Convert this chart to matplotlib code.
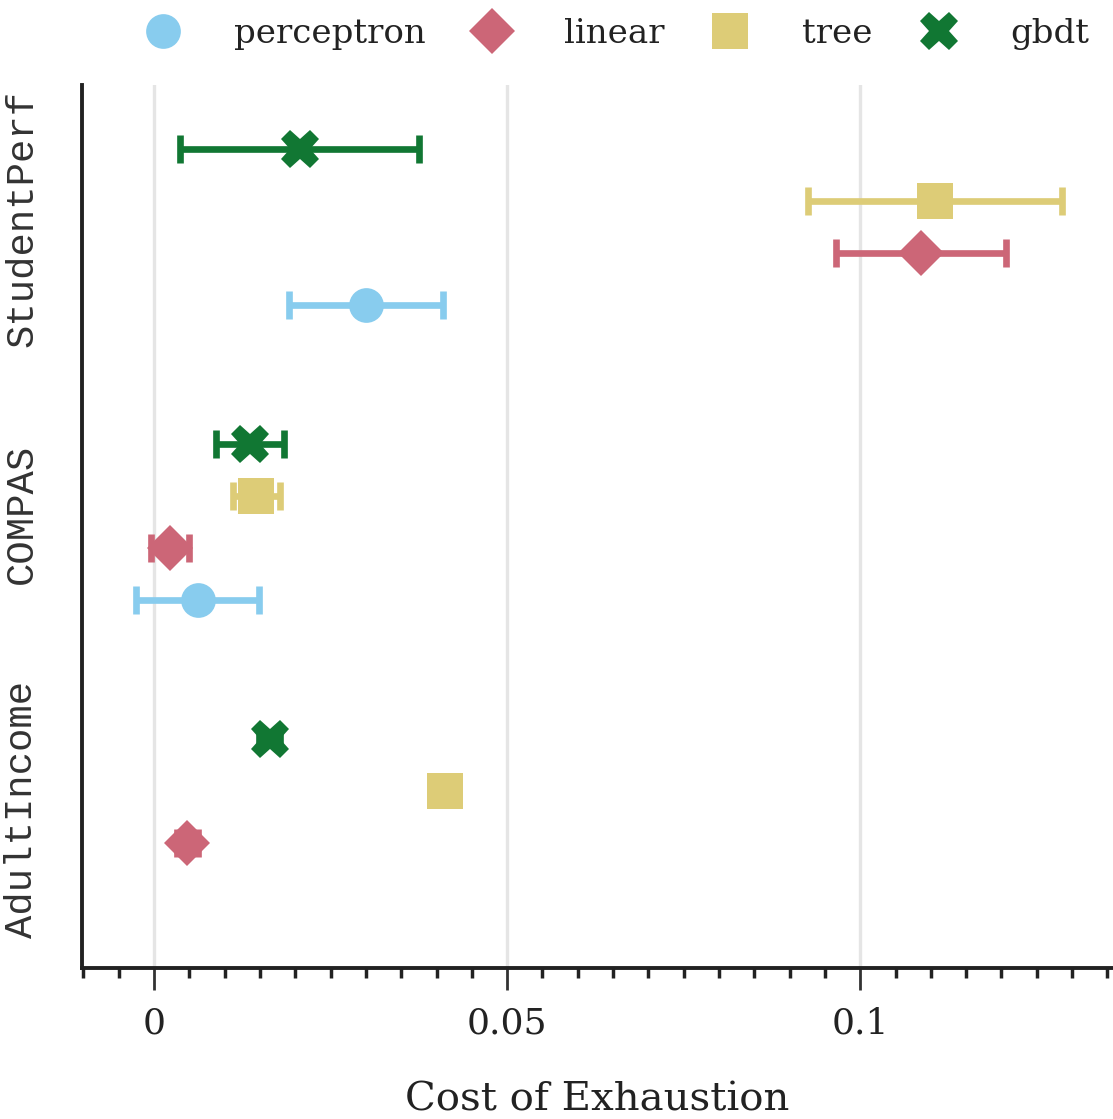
#!/usr/bin/env python3

"""
Cost of exhaustion per dataset and model, mean with error bars.
"""

import numpy as np
from matplotlib import pyplot as plt
from matplotlib.lines import Line2D
from matplotlib.ticker import MultipleLocator, FixedLocator
from matplotlib.transforms import ScaledTranslation

plt.rcParams['font.family'] = 'DejaVu Serif'
plt.rcParams['font.size'] = 26

# data
datasets = ['AdultIncome', 'COMPAS', 'StudentPerf']
models = ['perceptron', 'linear', 'tree', 'gbdt']

perceptron_mean = [np.nan, 0.0062, 0.0300]
perceptron_err = [np.nan, 0.0087, 0.0109]
linear_mean = [0.0047, 0.0022, 0.1086]
linear_err = [0.0015, 0.0027, 0.0120]
tree_mean = [0.0412, 0.0145, 0.1106]
tree_err = [0.0, 0.0033, 0.0180]
gbdt_mean = [0.0164, 0.0136, 0.0206]
gbdt_err = [0.0015, 0.0048, 0.0169]

means = [perceptron_mean, linear_mean, tree_mean, gbdt_mean]
errs = [perceptron_err, linear_err, tree_err, gbdt_err]

colors = ['#88CCEE', '#CC6677', '#DDCC77', '#117733']
markers = ['o', 'D', 's', 'X']
msizes = [25, 23, 26, 28]
offsets = [-0.264, -0.088, 0.088, 0.264]

fig = plt.figure(figsize=(11.13, 11.19), dpi=100)
ax = fig.add_axes([0.0737, 0.135, 0.9263, 0.789])

y_base = np.arange(len(datasets))
for k in range(len(models)):
    y = y_base + offsets[k]
    ax.errorbar(means[k], y, xerr=errs[k], fmt='none', ecolor=colors[k],
                elinewidth=4.8, capsize=10, capthick=4.8, zorder=3)
    ax.plot(means[k], y, linestyle='none', marker=markers[k], color=colors[k],
            ms=msizes[k], mew=0, zorder=4)

ax.set_xlim(-0.0102, 0.1358)
ax.set_ylim(-0.51, 2.48)
ax.xaxis.set_major_locator(FixedLocator([0, 0.05, 0.1]))
ax.xaxis.set_minor_locator(MultipleLocator(0.005))
ax.set_xticklabels(['0', '0.05', '0.1'])
ax.tick_params(axis='x', which='major', length=16, width=2, color='#333333',
               pad=12, labelcolor='#222222')
ax.tick_params(axis='x', which='minor', length=7, width=2.5, color='#222222')
ax.grid(axis='x', which='major', color='#e5e5e5', linewidth=2.4, zorder=0)
ax.set_axisbelow(True)

ax.set_yticks(y_base)
ax.set_yticklabels(datasets, rotation=90, va='center', family='Liberation Mono',
                   fontsize=28, color='#333333')
ax.tick_params(axis='y', length=0, pad=30)
shift = ScaledTranslation(0, 0.08, fig.dpi_scale_trans)
for lab in ax.get_yticklabels():
    lab.set_transform(lab.get_transform() + shift)

for side in ['top', 'right']:
    ax.spines[side].set_visible(False)
for side in ['left', 'bottom']:
    ax.spines[side].set_linewidth(2.8)
    ax.spines[side].set_color('#222222')

ax.set_xlabel('Cost of Exhaustion', fontsize=29, color='#222222', labelpad=29)

handles = [Line2D([], [], linestyle='none', marker=markers[k], color=colors[k],
                  ms=msizes[k], mew=0) for k in range(len(models))]
fig.legend(handles, models, loc='center', bbox_to_anchor=(0.547, 0.970), ncol=4,
           frameon=False, handletextpad=1.1, columnspacing=0.95, fontsize=24.5,
           labelcolor='#222222')

plt.savefig('out.png', dpi=100)
